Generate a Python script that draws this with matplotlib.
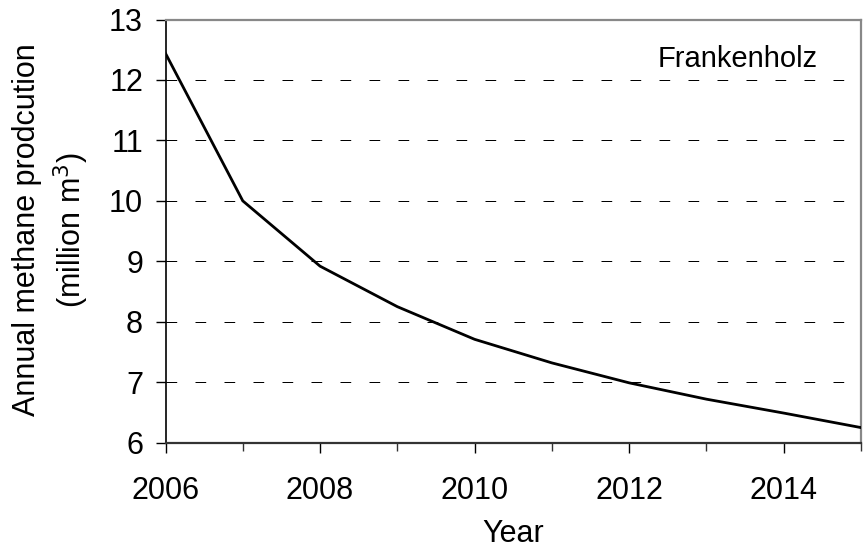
import matplotlib
matplotlib.use("Agg")
import matplotlib.pyplot as plt
from matplotlib.ticker import MultipleLocator

plt.rcParams['font.family'] = ['Liberation Sans', 'DejaVu Sans']

years = [2006, 2007, 2008, 2009, 2010, 2011, 2012, 2013, 2014, 2015]
production = [12.44, 10.0, 8.92, 8.25, 7.71, 7.32, 6.99, 6.72, 6.49, 6.25]
year_ticks = [2006, 2008, 2010, 2012, 2014]
site_name = "Frankenholz"

W, H = 864, 556
fig = plt.figure(figsize=(W / 100, H / 100), dpi=100)
left, right, top, bottom = 165.5, 861.0, 19.5, 442.7
ax = fig.add_axes([left / W, 1 - bottom / H, (right - left) / W, (bottom - top) / H])

ax.plot(years, production, color='black', lw=2.0, solid_joinstyle='miter', zorder=3)

ax.set_xlim(2006, 2015)
ax.set_ylim(6, 13)
ax.set_yticks(range(6, 14))
ax.set_xticks(year_ticks)
ax.xaxis.set_minor_locator(MultipleLocator(1))

# dashed horizontal reference lines
for y in range(7, 13):
    ax.axhline(y, color='black', lw=0.72, ls=(0, (10.7, 18.3)), zorder=1)

ax.tick_params(axis='both', which='major', direction='out', length=7.2, width=1.0,
               labelsize=22, color='black')
ax.tick_params(axis='y', which='major', pad=9)
ax.tick_params(axis='x', which='major', pad=17)
ax.tick_params(axis='x', which='minor', direction='out', length=5.4, width=1.0,
               color='#333333')

ax.spines['left'].set_color('black')
ax.spines['left'].set_linewidth(1.2)
ax.spines['bottom'].set_color('#333333')
ax.spines['bottom'].set_linewidth(1.6)
for side in ['top', 'right']:
    ax.spines[side].set_color('#888888')
    ax.spines[side].set_linewidth(1.6)

ax.set_xlabel("Year", fontsize=22, labelpad=9)

fig.text(51.5 / W, 1 - 230 / H, "Annual methane prodcution\n(million m$^3$)",
         rotation=90, ha='center', va='center', multialignment='center',
         fontsize=22, linespacing=1.3)

ax.text(0.938, 0.888, site_name, transform=ax.transAxes, ha='right', va='baseline',
        fontsize=21)

fig.savefig("out.png", dpi=100)
